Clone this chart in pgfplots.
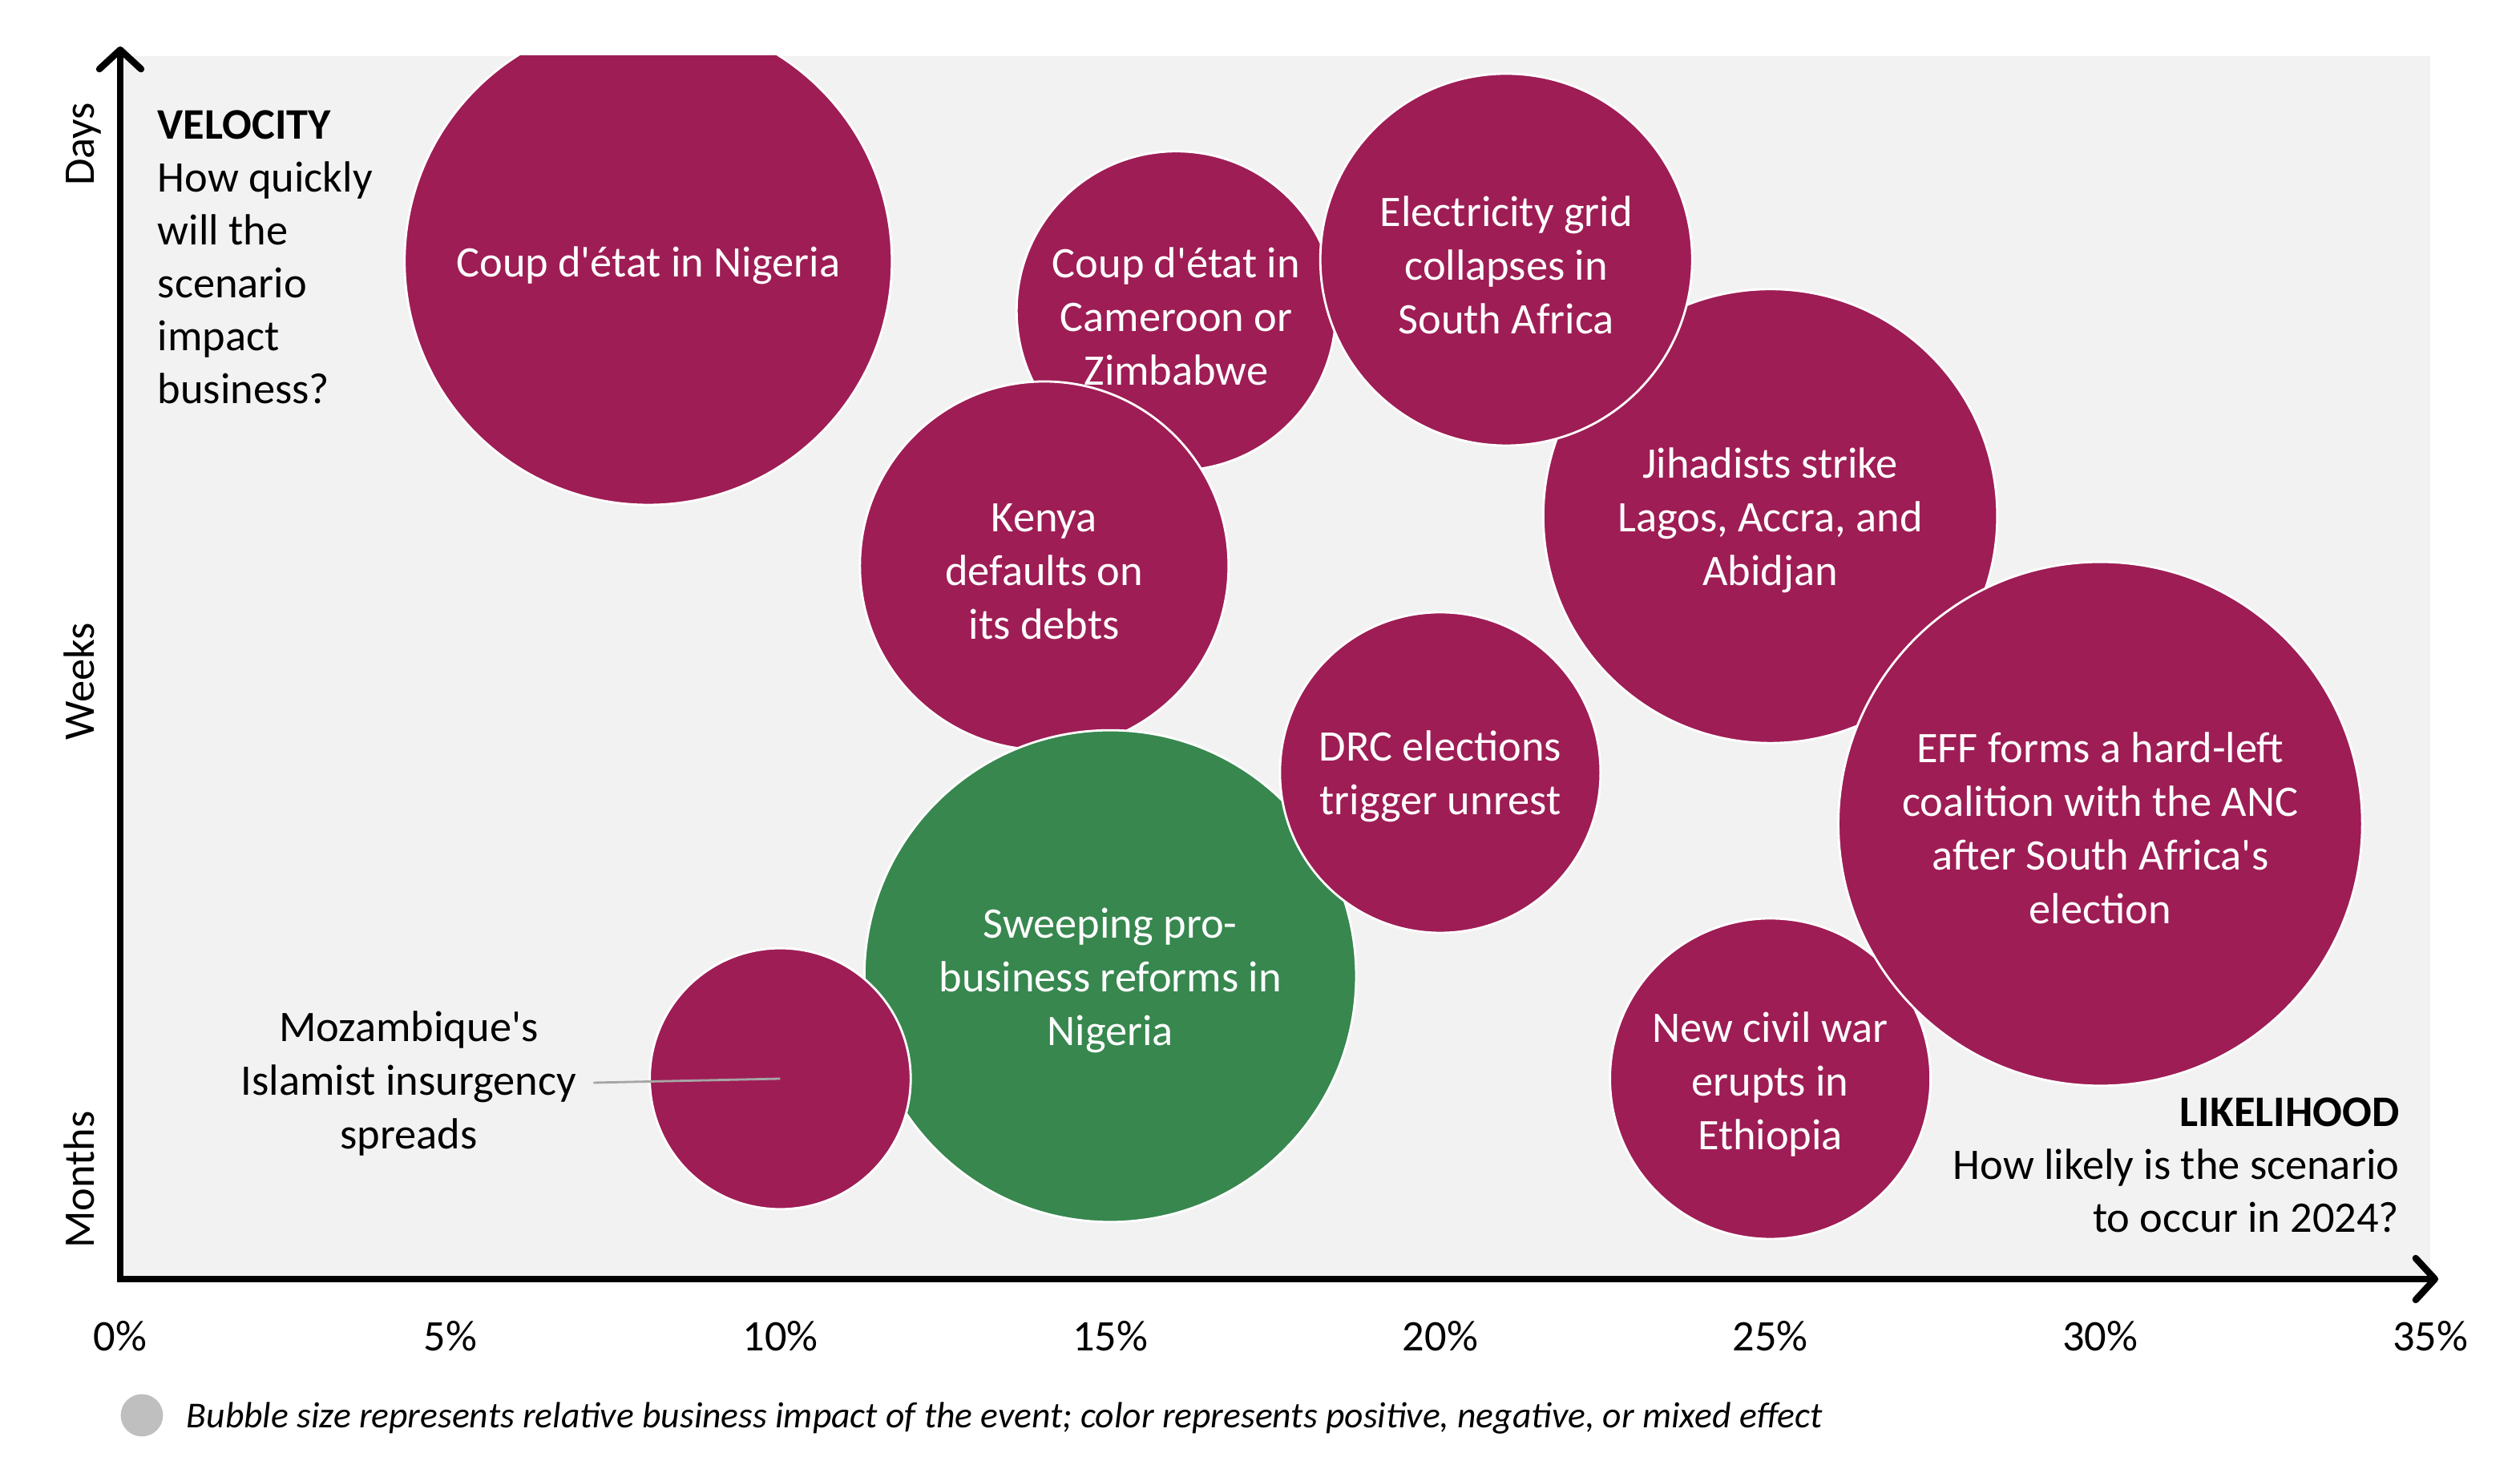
\documentclass[border=0pt]{standalone}
\usepackage{pgfplots}
\pgfplotsset{compat=1.18}
\usepackage{fontspec}
\setmainfont{Carlito}
\usetikzlibrary{arrows.meta}

\definecolor{bubred}{HTML}{9E1D55}
\definecolor{bubgreen}{HTML}{37874F}
\definecolor{plotbg}{HTML}{F2F2F2}
\definecolor{legdot}{HTML}{BFBFBF}
\definecolor{leader}{HTML}{A6A6A6}

\newcommand{\mainsize}{\fontsize{13.6}{16.75}\selectfont}
\newcommand{\q}{\textquotesingle}

\pgfplotsset{
  bubble/.style={only marks, mark=*, mark options={fill=#1, draw=white, line width=0.7pt}},
  bubble/.default=bubred,
}
\tikzset{
  bubtext/.style={text=white, align=center, font=\mainsize, inner sep=0pt, yshift=-1.25pt},
}

\begin{document}
\begin{tikzpicture}
% 1 px of the half-size reference = 0.5pt, origin at the axis corner
\begin{axis}[
  at={(0pt,0pt)}, anchor=south west,
  x=20.586pt, y=0.5pt,
  xmin=0, xmax=35, ymin=0, ymax=763,
  axis background/.style={fill=plotbg},
  axis line style={draw=none},
  clip marker paths=true,
  xtick={0,5,...,35},
  xticklabels={0\%,5\%,10\%,15\%,20\%,25\%,30\%,35\%},
  ytick=\empty,
  major tick length=0pt,
  tick style={draw=none},
  xticklabel style={font=\mainsize, anchor=base, yshift=-22.5pt},
]

% bubbles: likelihood (%), velocity (px from axis), radius as mark size
\addplot[bubble, mark size=76pt]   coordinates {(8,635)};   % coup Nigeria
\addplot[bubble, mark size=49.8pt] coordinates {(16,604)};  % coup Cameroon/Zimbabwe
\addplot[bubble, mark size=70.8pt] coordinates {(25,476)};  % jihadists
\addplot[bubble, mark size=58pt]   coordinates {(21,636)};  % electricity grid
\addplot[bubble, mark size=57.5pt] coordinates {(14,445)};  % Kenya default
\addplot[bubble=bubgreen, mark size=76.7pt] coordinates {(15,189)}; % reforms Nigeria
\addplot[bubble, mark size=50pt]   coordinates {(20,316)};  % DRC elections
\addplot[bubble, mark size=40.7pt] coordinates {(10,125)};  % Mozambique
\addplot[bubble, mark size=50pt]   coordinates {(25,125)};  % Ethiopia
\addplot[bubble, mark size=81.7pt] coordinates {(30,284)};  % EFF / ANC

\draw[leader, line width=0.7pt] (axis cs:7.17,122.5) -- (axis cs:10,125);

\node[bubtext] at (axis cs:8,635) {Coup d\q état in Nigeria};
\node[bubtext] at (axis cs:16,603) {Coup d\q état in\\Cameroon or\\Zimbabwe};
\node[bubtext] at (axis cs:21,635) {Electricity grid\\collapses in\\South Africa};
\node[bubtext] at (axis cs:25,476) {Jihadists strike\\Lagos, Accra, and\\Abidjan};
\node[bubtext] at (axis cs:14,444) {Kenya\\defaults on\\its debts};
\node[bubtext] at (axis cs:20,316) {DRC elections\\trigger unrest};
\node[bubtext] at (axis cs:30,284) {EFF forms a hard-left\\coalition with the ANC\\after South Africa\q s\\election};
\node[bubtext] at (axis cs:15,189) {Sweeping pro-\\business reforms in\\Nigeria};
\node[bubtext] at (axis cs:25,124) {New civil war\\erupts in\\Ethiopia};
\node[align=center, font=\mainsize, inner sep=0pt] at (axis cs:4.37,122) {Mozambique\q s\\Islamist insurgency\\spreads};
\end{axis}

% axes with open arrow heads
\draw[line width=2.1pt, -{Straight Barb[length=6pt, width=13pt, round]}] (0pt,0pt) -- (0pt,384.5pt);
\draw[line width=2.1pt, -{Straight Barb[length=6pt, width=13pt, round]}] (-1pt,0pt) -- (723pt,0pt);

% velocity scale words
\node[rotate=90, anchor=base, font=\mainsize] at (-8pt,354pt) {Days};
\node[rotate=90, anchor=base, font=\mainsize] at (-8pt,186.5pt) {Weeks};
\node[rotate=90, anchor=base, font=\mainsize] at (-8pt,31pt) {Months};

% axis titles
\begin{scope}[every node/.style={anchor=base west, font=\mainsize, inner sep=0pt}]
\node at (11.5pt,355.5pt) {\bfseries VELOCITY};
\node at (11.5pt,339pt) {How quickly};
\node at (11.5pt,322.5pt) {will the};
\node at (11.5pt,306pt) {scenario};
\node at (11.5pt,289.5pt) {impact};
\node at (11.5pt,273pt) {business?};
\end{scope}
\begin{scope}[every node/.style={anchor=base east, font=\mainsize, inner sep=0pt}]
\node at (711pt,47.5pt) {\bfseries LIKELIHOOD};
\node at (711pt,31pt) {How likely is the scenario};
\node at (711pt,14.5pt) {to occur in 2024?};
\end{scope}

% legend note
\fill[legdot] (6.75pt,-42.5pt) circle[radius=6.6pt];
\node[anchor=base west, inner sep=0pt, font=\fontsize{11.4}{13}\selectfont\itshape] at (20.5pt,-46.5pt)
  {Bubble size represents relative business impact of the event; color represents positive, negative, or mixed effect};

% page = reference frame, 1572 x 914 px at 0.5pt each
\pgfresetboundingbox
\path[use as bounding box] (-37.5pt,-58pt) rectangle (748.5pt,399pt);
\end{tikzpicture}
\end{document}
